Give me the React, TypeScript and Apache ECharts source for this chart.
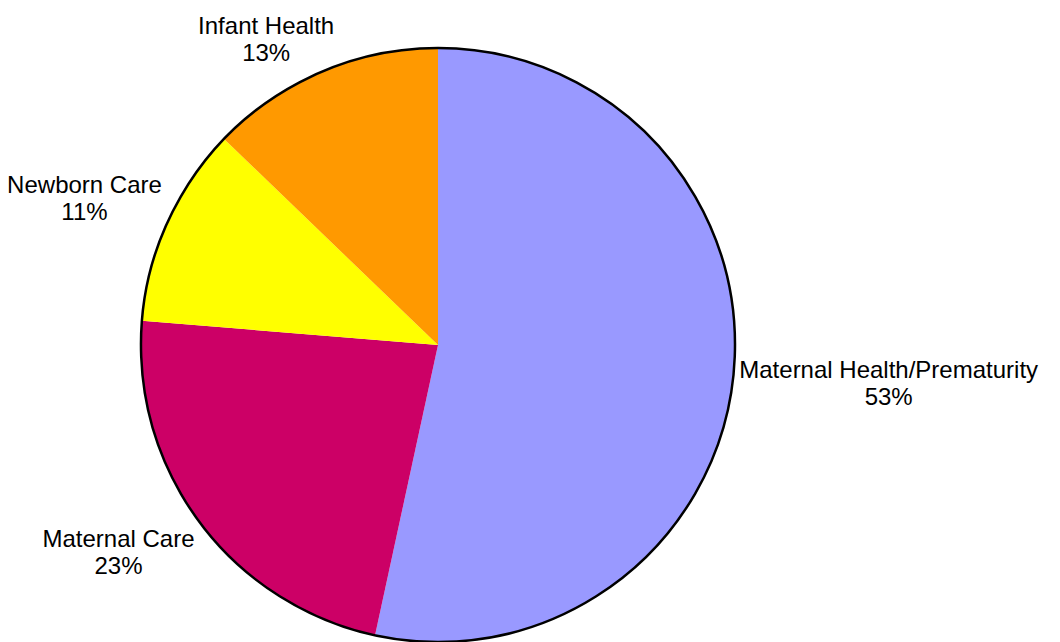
import React, { useEffect, useRef } from "react";
import * as echarts from "echarts";

const categories = ["Maternal Health/Prematurity", "Maternal Care", "Newborn Care", "Infant Health"];
const shares = [53.4, 22.9, 10.9, 12.8];
const colors = ["#9999FF", "#CC0066", "#FFFF00", "#FF9900"];

const CX = 438;
const CY = 345;
const R = 297;
const FONT_SIZE = 24;
const LINE_H = 27;
const FONT_FAMILY = "'Liberation Sans', Arial, sans-serif";

export default function App() {
  const ref = useRef<HTMLDivElement>(null);
  useEffect(() => {
    if (!ref.current) return;
    const chart = echarts.init(ref.current, null, { renderer: "svg" });
    const total = shares.reduce((a, b) => a + b, 0);
    const mids: number[] = [];
    let cum = 0;
    shares.forEach((v) => {
      mids.push(((cum + v / 2) / total) * Math.PI * 2);
      cum += v;
    });
    const canvas = document.createElement("canvas");
    const ctx = canvas.getContext("2d")!;
    ctx.font = `${FONT_SIZE}px ${FONT_FAMILY}`;
    const labelWidth = (i: number) => {
      const pct = Math.round((shares[i] / total) * 100) + "%";
      return Math.max(ctx.measureText(categories[i]).width, ctx.measureText(pct).width);
    };
    const f = (t: number) => Math.max(-1, Math.min(1, t * 2));
    chart.setOption({
      animation: false,
      backgroundColor: "#ffffff",
      series: [
        {
          type: "pie",
          center: [CX, CY],
          radius: R,
          startAngle: 90,
          clockwise: true,
          percentPrecision: 0,
          silent: true,
          data: categories.map((c, i) => ({
            name: c,
            value: shares[i],
            itemStyle: { color: colors[i] },
          })),
          itemStyle: { borderWidth: 0 },
          label: {
            show: true,
            position: "outside",
            formatter: "{b}\n{d}%",
            color: "#000",
            fontSize: FONT_SIZE,
            lineHeight: LINE_H,
            fontFamily: FONT_FAMILY,
            align: "center",
            overflow: "none",
          },
          labelLine: { show: false },
          labelLayout: (p: any) => {
            if (p.seriesIndex !== 0) return {};
            const i = p.dataIndex;
            const th = mids[i];
            const dx = Math.sin(th);
            const dy = -Math.cos(th);
            const d = 6;
            const px = CX + (R + d) * dx;
            const py = CY + (R + d) * dy;
            const w = labelWidth(i);
            const h = LINE_H * 2;
            return {
              x: px + f(dx) * (w / 2),
              y: py + f(dy) * (h / 2),
              align: "center",
              verticalAlign: "middle",
              width: 600,
            };
          },
        },
        {
          type: "pie",
          center: [CX, CY],
          radius: R,
          silent: true,
          z: 5,
          data: [{ value: 1, name: "outline" }],
          itemStyle: { color: "transparent", borderColor: "#000", borderWidth: 2.5 },
          label: { show: false },
          labelLine: { show: false },
        },
      ],
    });
    return () => chart.dispose();
  }, []);
  return (
    <div
      ref={ref}
      style={{ position: "fixed", left: 0, top: 0, width: 1060, height: 642 }}
    />
  );
}
